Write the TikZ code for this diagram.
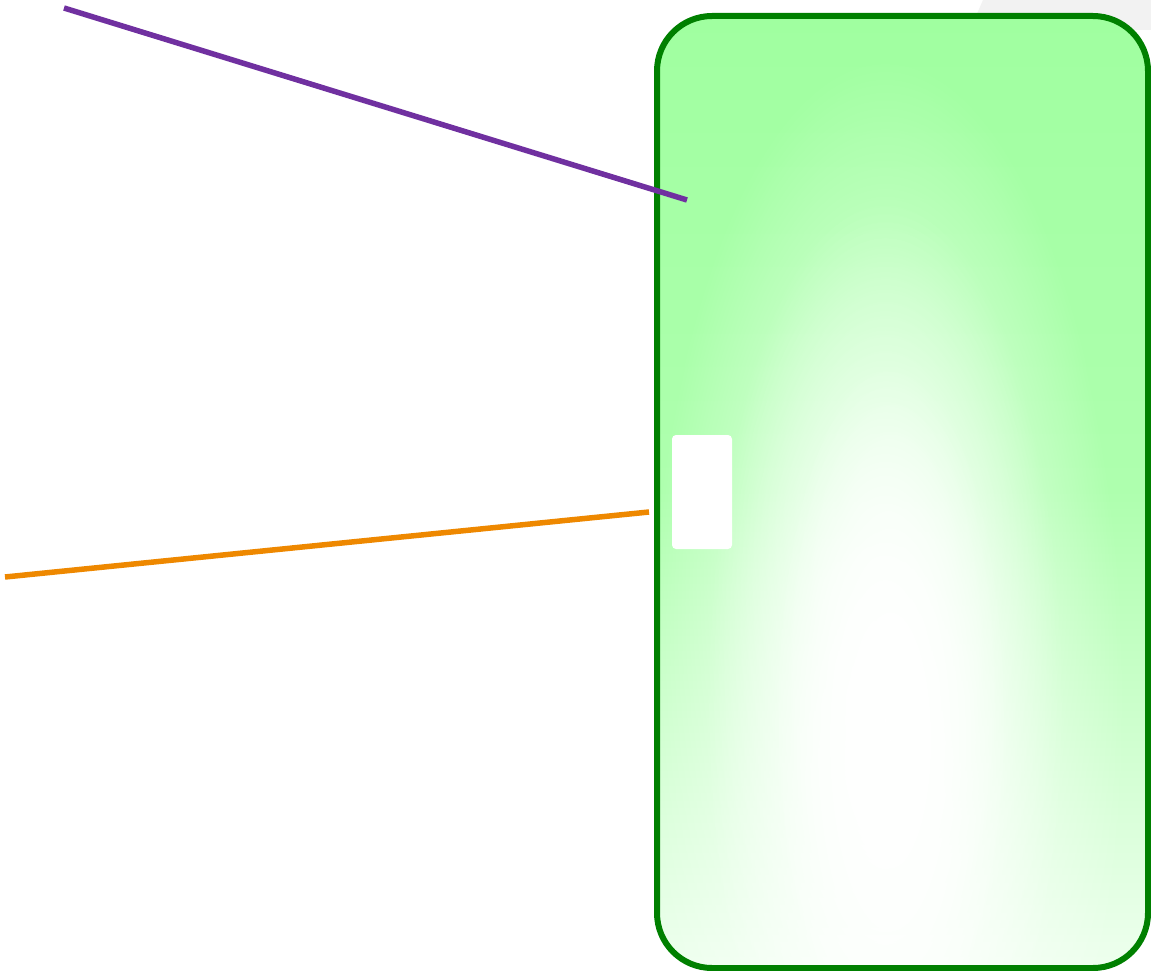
\documentclass[tikz,border=0pt]{standalone}
\usetikzlibrary{fadings}
\definecolor{boxgreen}{HTML}{008000}
\definecolor{fillgreen}{HTML}{A0FFA0}
\definecolor{palegreen}{HTML}{EEFFEE}
\definecolor{linepurple}{HTML}{7030A0}
\definecolor{lineorange}{HTML}{EE8800}
\definecolor{bggray}{HTML}{F2F2F2}
\tikzfading[name=glow, inner color=transparent!0, outer color=transparent!100]
\tikzset{
  panelborder/.style={draw=boxgreen, line width=6pt, rounded corners=55pt},
  slot/.style={fill=white, rounded corners=4pt},
  wire/.style={line width=5.5pt},
}
\begin{document}
\begin{tikzpicture}[x=1pt,y=-1pt]
\useasboundingbox (0,0) rectangle (1151,971);
\fill[white] (0,0) rectangle (1151,971);
\fill[bggray] (983,0) -- (1151,0) -- (1151,30) -- (970,30) -- cycle;
% panel fill
\begin{scope}
  \clip[rounded corners=55pt] (657,16) rectangle (1148,968);
  \shade[top color=fillgreen, bottom color=palegreen, middle color=fillgreen!85!white] (657,16) rectangle (1148,968);
  \fill[white, path fading=glow] (885,720) ellipse (240 and 660);
  \fill[white, path fading=glow] (885,720) ellipse (180 and 520);
  \fill[white, path fading=glow] (890,740) ellipse (120 and 380);
\end{scope}
\draw[panelborder] (657,16) rectangle (1148,968);
\node[slot, minimum width=60pt, minimum height=114pt, inner sep=0pt] (slot) at (702,492) {};
\coordinate (pA) at (64,8);
\coordinate (pB) at (687,200);
\coordinate (oA) at (5,577);
\coordinate (oB) at (649,512);
\draw[wire, draw=linepurple] (pA) -- (pB);
\draw[wire, draw=lineorange] (oA) -- (oB);
\end{tikzpicture}
\end{document}
